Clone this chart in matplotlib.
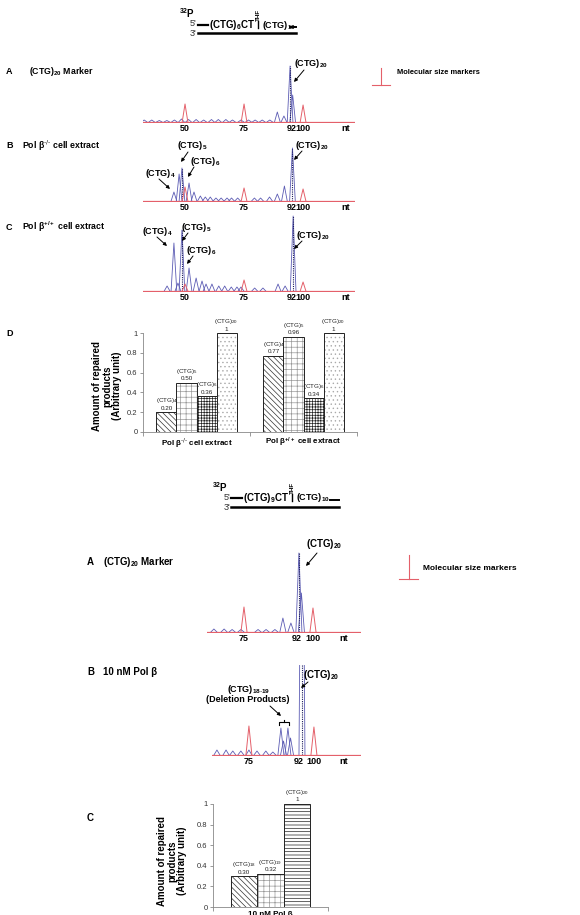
import numpy as np
import matplotlib
matplotlib.use("Agg")
import matplotlib.pyplot as plt
from matplotlib.lines import Line2D
from matplotlib.patches import FancyArrowPatch

plt.rcParams['font.family'] = ['Liberation Sans', 'DejaVu Sans']
plt.rcParams['mathtext.default'] = 'regular'
plt.rcParams['hatch.linewidth'] = 0.5

W, H = 580, 915
BLUE = '#5c5cb4'
DARK = '#1c1c5a'
RED = '#e4606a'

# ---------------- capillary traces: peak position (nt) / height ----------------
# top A : (CTG)20 marker
a_blue_pos = [32.7, 35.9, 39.1, 42.3, 45.5, 48.5, 51.5, 54.7, 57.9, 61.2, 64.1, 67.3,
              70.1, 73.7, 76.9, 79.7, 82.7, 85.9, 89.1, 91.9, 94.5, 95.6]
a_blue_h = [2, 2, 1.5, 1.5, 2, 3, 2.5, 2.5, 2, 2.5, 2.5, 2.5, 2, 2, 2, 2, 2, 2, 10, 6, 56, 27]
a_red_pos = [50, 75, 100]
a_red_h = [18, 18, 17]
a_dot_pos, a_dot_h = [94.5], [56]

# top B : Pol beta -/- extract
b_blue_pos = [45.3, 47.5, 48.7, 51.7, 53.8, 56.5, 58.6, 60.7, 63.1, 65.3, 67.8, 69.7,
              72.3, 79.4, 82.0, 85.8, 89.1, 92.1, 95.5]
b_blue_h = [9, 27, 33, 18, 9, 5, 4, 4, 3, 3, 3, 3, 3, 3, 3, 4, 7, 15, 53]
b_red_pos = [50, 75, 100]
b_red_h = [14, 13, 12]
b_dot_pos, b_dot_h = [48.7, 95.5], [33, 53]

# top C : Pol beta +/+ extract
c_blue_pos = [42.4, 45.3, 47.0, 48.7, 51.7, 54.7, 57.2, 58.9, 61.4, 64.3, 66.8, 69.6,
              72.0, 73.7, 79.5, 83.0, 89.4, 92.4, 95.8]
c_blue_h = [5, 48, 8, 61, 23, 13, 10, 7, 7, 5, 5, 4, 4, 4, 3, 3, 7, 5, 75]
c_red_pos = [50, 75, 100]
c_red_h = [7, 11, 9]
c_dot_pos, c_dot_h = [48.7, 95.8], [61, 75]

top_ticks = [50, 75, 95, 100, 118]
top_ticklabels = ['50', '75', '92', '100', 'nt']

# lower A : (CTG)20 marker
la_blue_pos = [64.1, 67.8, 70.7, 73.9, 80.1, 83.0, 86.2, 89.1, 92.0, 94.9, 95.8]
la_blue_h = [3, 3, 2.5, 2.5, 2.5, 2.5, 2.5, 14, 9, 79, 39]
la_red_pos = [75, 100]
la_red_h = [25, 24]
la_dot_pos, la_dot_h = [94.9], [79]
la_ticks = [75, 94.3, 100, 111.2]

# lower B : 10 nM Pol beta (main peak is off scale)
lb_blue_pos = [62.7, 66.2, 68.8, 71.9, 75.0, 78.1, 81.5, 84.2, 87.3, 88.3, 90.0, 91.0, 95.4]
lb_blue_h = [5, 5, 4, 4, 5, 4, 4, 3, 27, 14, 27, 17, 400]
lb_red_pos = [75, 100]
lb_red_h = [29, 28]
lb_dot_pos, lb_dot_h = [95.4], [400]
lb_ticks = [75, 94, 100, 111.5]
low_ticklabels = ['75', '92', '100', 'nt']

# ---------------- bar charts ----------------
d_groups = [r'Pol β$^{\text{-/-}}$ cell extract', r'Pol β$^{+/+}$ cell extract']
d_products = ['(CTG)$_4$', '(CTG)$_5$', '(CTG)$_6$', '(CTG)$_{20}$']
d_minus = [0.20, 0.50, 0.36, 1]
d_plus = [0.77, 0.96, 0.34, 1]

c_groups = ['10 nM Pol β']
c_products = ['(CTG)$_{18}$', '(CTG)$_{19}$', '(CTG)$_{20}$']
c_vals = [0.30, 0.32, 1]

yticks = [0, 0.2, 0.4, 0.6, 0.8, 1]
ytick_labels = ['0', '0.2', '0.4', '0.6', '0.8', '1']

fig = plt.figure(figsize=(W / 100, H / 100), dpi=100)


# helpers working in pixel coords of the page (y going down)
def fx(x):
    return x / W


def fy(y):
    return 1 - y / H


def ftext(x, y, s, size=5.5, bold=True, **kw):
    kw.setdefault('va', 'center')
    fig.text(fx(x), fy(y), s, fontsize=size, fontweight='bold' if bold else 'normal', **kw)


def fline(xs, ys, color='black', lw=1.0):
    fig.add_artist(Line2D([fx(v) for v in xs], [fy(v) for v in ys], color=color, lw=lw,
                          transform=fig.transFigure))


def farrow(x0, y0, x1, y1):
    fig.add_artist(FancyArrowPatch((fx(x0), fy(y0)), (fx(x1), fy(y1)), transform=fig.transFigure,
                                   arrowstyle='-|>', mutation_scale=5, lw=0.7, color='black',
                                   shrinkA=0, shrinkB=0))


def draw_trace(left, right, top, base, xlim, blue_pos, blue_h, red_pos, red_h,
               dot_pos, dot_h, ticks, ticklabels, w):
    ax = fig.add_axes([fx(left), fy(base + 1), (right - left) / W, (base + 1 - top) / H])
    ax.set_xlim(xlim)
    ax.set_ylim(-1, base - top)
    for p, h in zip(blue_pos, blue_h):
        ax.plot([p - w, p, p + w], [0, h, 0], color=BLUE, lw=0.6)
    for p, h in zip(dot_pos, dot_h):
        ax.plot([p, p], [0, h], color=DARK, lw=0.8, ls=(0, (1, 1)))
    ax.axhline(0, color=RED, lw=0.9)
    for p, h in zip(red_pos, red_h):
        ax.plot([p - w, p, p + w], [0, h, 0], color=RED, lw=0.7)
    ax.set_xticks(ticks, ticklabels, fontsize=6.5, fontweight='bold')
    ax.tick_params(axis='x', length=0, pad=1)
    ax.set_yticks([])
    for s in ax.spines.values():
        s.set_visible(False)
    ax.patch.set_visible(False)
    return ax


def draw_bars(left, right, top, bottom, groups, products, vals_by_group, hatches, hatch_cols, bw):
    ax = fig.add_axes([fx(left), fy(bottom), (right - left) / W, (bottom - top) / H])
    x = np.arange(len(groups))
    offs = (np.arange(len(products)) - (len(products) - 1) / 2) * bw
    for j, prod in enumerate(products):
        vals = [g[j] for g in vals_by_group]
        ax.bar(x + offs[j], vals, bw, color='white', hatch=hatches[j], edgecolor=hatch_cols[j], lw=0)
        ax.bar(x + offs[j], vals, bw, fill=False, edgecolor='#222222', lw=0.7)
        for xi, v in zip(x, vals):
            vt = '1' if v == 1 else f'{v:.2f}'
            ax.text(xi + offs[j], v + 0.015, f'{prod}\n{vt}', ha='center', va='bottom',
                    fontsize=4.5, linespacing=1.1, color='#222222')
    ax.set_xlim(-0.5, len(groups) - 0.5)
    ax.set_ylim(0, 1)
    ax.set_yticks(yticks, ytick_labels, fontsize=5.5, color='#333333')
    ax.set_xticks(x, groups, fontsize=5.8, fontweight='bold')
    ax.set_xticks(np.arange(len(groups) + 1) - 0.5, minor=True)
    ax.tick_params(axis='x', which='major', length=0, pad=3)
    ax.tick_params(axis='x', which='minor', length=3, color='#888888', width=0.6)
    ax.tick_params(axis='y', length=2, color='#888888', width=0.6, pad=2)
    for s in ['top', 'right']:
        ax.spines[s].set_visible(False)
    for s in ['left', 'bottom']:
        ax.spines[s].set_color('#888888')
        ax.spines[s].set_linewidth(0.6)
    ax.patch.set_visible(False)
    return ax


# ================= upper figure =================
# substrate sketch
ftext(179, 13, r'$^{32}$P', size=7)
ftext(196, 24, "5'", size=6.5, bold=False, ha='right', color='#333333')
ftext(196, 33.5, "3'", size=6.5, bold=False, ha='right', color='#333333')
fline([198, 208], [25, 25], lw=1.6)
ftext(209, 25, '(CTG)$_6$CT', size=7)
ftext(258, 15, 'THF', size=4.5, rotation=90, ha='center')
fline([258, 258], [21, 28], lw=1.0)
ftext(262, 25, '(CTG)$_{10}$', size=6.5)
fline([290, 296], [27, 27], lw=1.4)
fline([198, 296], [33, 33], lw=1.8)

# legend for the red ladder
fline([381, 381], [68, 85], color=RED, lw=0.8)
fline([372, 390], [85, 85], color=RED, lw=0.8)
ftext(397, 73, 'Molecular size markers', size=5.4)

ftext(6, 72, 'A', size=6.5)
ftext(29, 72, '(CTG)$_{20}$ Marker', size=6.3)
ftext(6, 146, 'B', size=6.5)
ftext(22, 146, r'Pol β$^{\text{-/-}}$ cell extract', size=6.3)
ftext(6, 227, 'C', size=6.5)
ftext(22, 227, r'Pol β$^{+/+}$ cell extract', size=6.3)
ftext(6, 333, 'D', size=6.5)

top_xlim = (32.2, 122.0)
draw_trace(143, 355, 60, 122, top_xlim, a_blue_pos, a_blue_h, a_red_pos, a_red_h,
           a_dot_pos, a_dot_h, top_ticks, top_ticklabels, 1.2)
draw_trace(143, 355, 138, 201, top_xlim, b_blue_pos, b_blue_h, b_red_pos, b_red_h,
           b_dot_pos, b_dot_h, top_ticks, top_ticklabels, 1.2)
draw_trace(143, 355, 214, 291, top_xlim, c_blue_pos, c_blue_h, c_red_pos, c_red_h,
           c_dot_pos, c_dot_h, top_ticks, top_ticklabels, 1.2)

# peak labels
ftext(294, 63, '(CTG)$_{20}$', size=6.5)
farrow(304, 70, 294, 82)
ftext(177, 145, '(CTG)$_5$', size=6.5)
farrow(188, 152, 181, 162)
ftext(190, 161, '(CTG)$_6$', size=6.5)
farrow(194, 167, 188, 177)
ftext(145, 173, '(CTG)$_4$', size=6.5)
farrow(159, 179, 170, 189)
ftext(295, 145, '(CTG)$_{20}$', size=6.5)
farrow(302, 151, 294, 160)
ftext(142, 231, '(CTG)$_4$', size=6.5)
farrow(157, 237, 167, 246)
ftext(181, 227, '(CTG)$_5$', size=6.5)
farrow(188, 233, 182, 241)
ftext(186, 250, '(CTG)$_6$', size=6.5)
farrow(193, 256, 187, 264)
ftext(296, 235, '(CTG)$_{20}$', size=6.5)
farrow(302, 241, 294, 249)

draw_bars(143, 357, 333, 432, d_groups, d_products, [d_minus, d_plus],
          ['\\\\\\\\\\\\', '+++', '++++++', '....'], ['#333333', '#999999', '#222222', '#aaaaaa'], 0.187)
ftext(107, 386, 'Amount of repaired\nproducts\n(Arbitrary unit)', size=7, rotation=90,
      ha='center', linespacing=0.95)

# ================= lower figure =================
ftext(212, 487, r'$^{32}$P', size=7)
ftext(230, 497, "5'", size=6.5, bold=False, ha='right', color='#333333')
ftext(230, 507.5, "3'", size=6.5, bold=False, ha='right', color='#333333')
fline([231, 242], [498, 498], lw=1.6)
ftext(243, 498, '(CTG)$_9$CT', size=7)
ftext(292, 488, 'THF', size=4.5, rotation=90, ha='center')
fline([292, 292], [494, 501], lw=1.0)
ftext(296, 498, '(CTG)$_{10}$', size=6.5)
fline([330, 339], [499.5, 499.5], lw=1.4)
fline([231, 339], [507, 507], lw=1.8)

fline([409, 409], [555, 579], color=RED, lw=0.8)
fline([399, 418], [579, 579], color=RED, lw=0.8)
ftext(423, 568, 'Molecular size markers', size=6)

ftext(87, 562, 'A', size=7)
ftext(103, 562, '(CTG)$_{20}$ Marker', size=7)
ftext(87, 672, 'B', size=7)
ftext(103, 672, '10 nM Pol β', size=7)
ftext(87, 818, 'C', size=7)

draw_trace(207, 361, 545, 632, (61.6, 117.4), la_blue_pos, la_blue_h, la_red_pos, la_red_h,
           la_dot_pos, la_dot_h, la_ticks, low_ticklabels, 1.1)
draw_trace(212, 361, 665, 755, (60.8, 118.1), lb_blue_pos, lb_blue_h, lb_red_pos, lb_red_h,
           lb_dot_pos, lb_dot_h, lb_ticks, low_ticklabels, 1.15)

ftext(306, 544, '(CTG)$_{20}$', size=7)
farrow(317, 553, 306, 566)
ftext(303, 675, '(CTG)$_{20}$', size=7)
farrow(308, 682, 301, 688)
ftext(249, 690, r'(CTG)$_{18\text{-}19}$', size=6.5, ha='center')
ftext(248, 700, '(Deletion Products)', size=6.5, ha='center')
farrow(270, 706, 281, 716)
# little bracket over the deletion peaks
fline([279, 279, 289, 289], [725, 722, 722, 725], lw=0.8)
fline([284, 284], [722, 720], lw=0.8)

draw_bars(213, 328, 804, 907, c_groups, c_products, [c_vals],
          ['\\\\\\\\\\\\', '+++', '-----'], ['#333333', '#999999', '#222222'], 0.229)
ftext(172, 861, 'Amount of repaired\nproducts\n(Arbitrary unit)', size=7, rotation=90,
      ha='center', linespacing=0.95)

fig.savefig('out.png', dpi=100)
